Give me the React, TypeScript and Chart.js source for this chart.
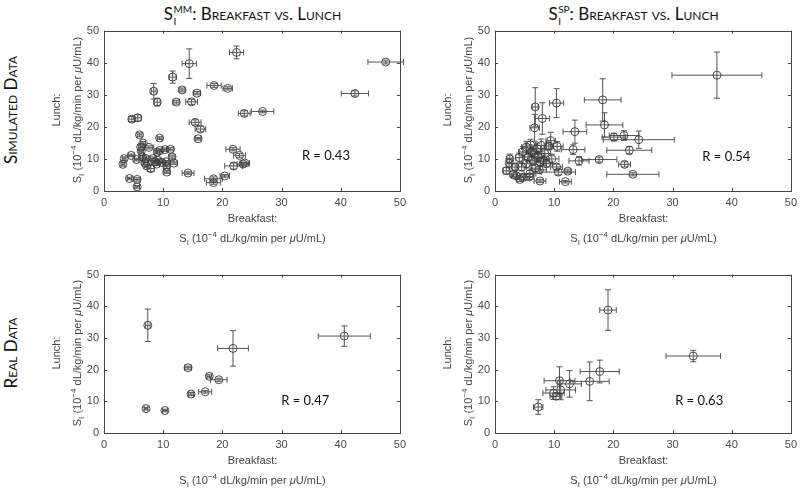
import React, { useEffect, useRef } from "react";
import { Chart, registerables } from "chart.js";

Chart.register(...registerables);

// ---- Simulated, S_I^MM ----
const SIM_MM_BREAKFAST = [47.6, 42.4, 22.4, 14.4, 11.6, 18.6, 20.9, 13.2, 15.7, 8.4, 9.0, 12.2, 14.8, 23.7, 26.8, 4.7, 5.7, 15.4, 16.3, 15.9, 6.0, 9.4, 21.8, 22.9, 21.9, 23.5, 23.8, 14.2, 20.4, 18.5, 18.5, 4.3, 5.6, 5.6, 3.4, 3.2, 4.6, 5.5, 6.2, 6.6, 7.6, 6.3, 6.5, 6.9, 7.2, 7.9, 8.3, 8.6, 8.9, 9.1, 9.0, 9.4, 10.3, 11.2, 11.5, 10.6, 10.6, 11.8, 9.8, 10.5, 7.1];
const SIM_MM_LUNCH = [40.2, 30.4, 43.2, 39.7, 35.5, 32.9, 32.0, 31.5, 30.5, 31.1, 27.7, 27.7, 27.8, 24.2, 24.8, 22.4, 22.8, 21.4, 19.3, 16.3, 17.5, 16.5, 13.0, 11.1, 7.8, 8.4, 8.7, 5.6, 4.7, 3.8, 2.6, 3.9, 3.6, 1.3, 10.1, 8.3, 11.1, 9.8, 13.7, 14.9, 13.6, 12.4, 10.6, 8.8, 7.8, 7.0, 10.1, 9.1, 8.4, 9.6, 12.1, 12.6, 12.9, 13.0, 10.6, 7.7, 5.9, 8.7, 8.9, 9.1, 10.1];
const SIM_MM_BREAKFAST_ERR = [3.0, 2.3, 1.2, 1.2, 0.6, 1.2, 0.8, 0.5, 0.6, 0.4, 0.5, 0.5, 1.0, 1.0, 1.9, 0.5, 0.6, 1.0, 0.9, 0.5, 0.4, 0.4, 1.2, 1.0, 1.5, 1.0, 0.8, 1.0, 0.8, 1.5, 1.2, 0.4, 0.5, 0.4, 0.3, 0.3, 0.5, 0.4, 0.4, 0.4, 0.8, 0.4, 0.4, 0.5, 0.4, 0.6, 0.5, 0.5, 0.5, 0.4, 0.4, 0.5, 0.5, 0.6, 0.5, 0.5, 0.5, 0.6, 0.4, 0.5, 0.4];
const SIM_MM_LUNCH_ERR = [0.6, 0.8, 2.0, 4.6, 1.9, 0.6, 0.5, 0.6, 0.5, 2.4, 1.2, 0.6, 0.8, 0.8, 0.4, 0.8, 1.0, 0.8, 0.9, 0.4, 0.6, 0.4, 0.5, 0.6, 1.0, 0.5, 0.3, 0.4, 0.4, 0.6, 0.5, 0.4, 0.5, 0.4, 0.5, 0.5, 0.4, 0.4, 0.6, 0.5, 0.5, 0.5, 0.5, 0.5, 0.4, 1.0, 0.5, 0.4, 0.5, 0.4, 0.5, 0.4, 0.5, 0.5, 0.6, 0.6, 0.4, 0.4, 0.4, 0.4, 0.5];

// ---- Simulated, S_I^SP ----
const SIM_SP_BREAKFAST = [37.5, 18.2, 10.4, 6.8, 8.0, 6.7, 18.5, 13.5, 20.1, 21.8, 24.3, 9.4, 10.5, 9.1, 13.2, 22.7, 17.6, 14.2, 21.9, 10.4, 10.7, 12.3, 23.3, 11.9, 7.6, 1.9, 2.4, 2.5, 3.1, 3.6, 4.1, 4.5, 4.8, 5.3, 5.6, 5.3, 5.9, 6.2, 6.4, 6.8, 7.1, 7.3, 7.6, 7.5, 8.2, 8.4, 5.8, 4.2, 3.4, 4.7, 6.6, 7.8, 8.7, 9.6, 6.0];
const SIM_SP_LUNCH = [36.1, 28.4, 27.4, 26.2, 22.6, 19.7, 20.6, 18.5, 16.8, 17.3, 16.0, 15.7, 13.9, 14.0, 12.9, 12.7, 9.8, 9.4, 8.3, 7.5, 5.9, 6.2, 5.2, 2.9, 3.1, 6.3, 8.7, 10.0, 5.2, 4.7, 10.4, 7.5, 4.3, 13.7, 10.6, 8.5, 5.4, 12.2, 9.6, 7.1, 13.2, 10.6, 9.1, 6.6, 9.6, 11.7, 4.4, 3.6, 7.5, 12.2, 11.7, 14.2, 8.6, 10.0, 14.3];
const SIM_SP_BREAKFAST_ERR = [7.6, 3.1, 1.2, 0.5, 1.2, 0.8, 3.1, 2.0, 2.0, 2.5, 6.0, 0.8, 1.0, 0.8, 2.0, 3.8, 3.0, 1.7, 1.0, 1.0, 2.9, 0.5, 4.4, 1.0, 1.0, 0.5, 0.4, 0.5, 0.6, 0.8, 0.6, 0.8, 1.0, 0.8, 0.7, 0.8, 1.0, 0.8, 0.9, 0.9, 0.8, 1.0, 0.9, 1.2, 1.0, 1.0, 0.8, 0.6, 0.5, 0.7, 0.8, 0.9, 1.0, 1.2, 0.9];
const SIM_SP_LUNCH_ERR = [7.2, 6.6, 4.5, 6.0, 4.9, 4.2, 3.8, 3.6, 1.2, 1.5, 2.7, 2.6, 1.5, 1.2, 1.5, 1.2, 0.8, 1.3, 0.8, 0.9, 0.9, 0.6, 0.5, 0.4, 0.5, 1.0, 1.5, 1.5, 0.8, 0.9, 1.4, 1.2, 0.8, 1.8, 1.5, 1.3, 1.0, 1.5, 1.6, 1.2, 1.7, 1.5, 1.4, 1.0, 1.6, 1.5, 0.8, 0.6, 1.0, 1.6, 1.5, 2.0, 1.2, 1.5, 1.8];

// ---- Real, S_I^MM ----
const REAL_MM_BREAKFAST = [7.4, 21.8, 40.6, 14.2, 17.8, 19.4, 17.1, 14.7, 7.1, 10.3];
const REAL_MM_LUNCH = [34.0, 26.7, 30.6, 20.6, 17.9, 16.8, 13.0, 12.3, 7.7, 7.1];
const REAL_MM_BREAKFAST_ERR = [0.4, 2.6, 4.4, 0.6, 0.4, 1.4, 1.1, 0.4, 0.3, 0.4];
const REAL_MM_LUNCH_ERR = [5.1, 5.6, 3.2, 0.5, 0.5, 0.5, 0.4, 0.5, 0.4, 0.4];

// ---- Real, S_I^SP ----
const REAL_SP_BREAKFAST = [19.1, 33.5, 17.7, 16.0, 10.9, 12.6, 11.1, 9.9, 10.3, 7.3];
const REAL_SP_LUNCH = [38.8, 24.3, 19.4, 16.3, 16.5, 15.5, 13.6, 12.6, 11.6, 8.2];
const REAL_SP_BREAKFAST_ERR = [1.4, 4.6, 3.3, 3.3, 2.6, 2.0, 2.5, 1.8, 1.0, 0.8];
const REAL_SP_LUNCH_ERR = [6.4, 1.8, 3.6, 6.1, 4.4, 4.2, 3.1, 2.0, 1.0, 2.3];

const AXIS_TICKS = [0, 10, 20, 30, 40, 50];
const R_LABELS = ["R = 0.43", "R = 0.54", "R = 0.47", "R = 0.63"];
const R_POS_X = [37.5, 39.1, 34.0, 34.5];
const R_POS_Y = [11.1, 10.8, 10.3, 10.1];

const TITLE_SUPS = ["MM", "SP"];
const ROW_LABELS = ["Simulated Data", "Real Data"];

const INK = "#3a3a3a";
const AXIS_FONT = "'Liberation Sans', Arial, sans-serif";

type PlotProps = {
  left: number;
  top: number;
  right: number;
  bottom: number;
  xs: number[];
  ys: number[];
  ex: number[];
  ey: number[];
  rText: string;
  rx: number;
  ry: number;
};

const PAD_L = 44;
const PAD_T = 10;
const PAD_R = 10;
const PAD_B = 24;

function Plot(p: PlotProps) {
  const ref = useRef<HTMLCanvasElement | null>(null);
  useEffect(() => {
    if (!ref.current) return;
    const errPlugin = {
      id: "errbars",
      beforeDatasetsDraw(chart: any) {
        const ctx = chart.ctx;
        const xs = chart.scales.x;
        const ys = chart.scales.y;
        const cap = 3;
        ctx.save();
        ctx.strokeStyle = "#555";
        ctx.lineWidth = 1;
        p.xs.forEach((xv, i) => {
          const cx = xs.getPixelForValue(xv);
          const cy = ys.getPixelForValue(p.ys[i]);
          const x1 = xs.getPixelForValue(xv - p.ex[i]);
          const x2 = xs.getPixelForValue(xv + p.ex[i]);
          const y1 = ys.getPixelForValue(p.ys[i] - p.ey[i]);
          const y2 = ys.getPixelForValue(p.ys[i] + p.ey[i]);
          ctx.beginPath();
          ctx.moveTo(x1, cy);
          ctx.lineTo(x2, cy);
          ctx.moveTo(x1, cy - cap);
          ctx.lineTo(x1, cy + cap);
          ctx.moveTo(x2, cy - cap);
          ctx.lineTo(x2, cy + cap);
          ctx.moveTo(cx, y1);
          ctx.lineTo(cx, y2);
          ctx.moveTo(cx - cap, y1);
          ctx.lineTo(cx + cap, y1);
          ctx.moveTo(cx - cap, y2);
          ctx.lineTo(cx + cap, y2);
          ctx.stroke();
        });
        ctx.restore();
      },
      afterDraw(chart: any) {
        const ctx = chart.ctx;
        const a = chart.chartArea;
        const xs = chart.scales.x;
        const ys = chart.scales.y;
        ctx.save();
        ctx.strokeStyle = "#444";
        ctx.lineWidth = 1;
        ctx.strokeRect(Math.round(a.left) + 0.5, Math.round(a.top) + 0.5, Math.round(a.right - a.left), Math.round(a.bottom - a.top));
        const t = 3;
        ctx.beginPath();
        AXIS_TICKS.forEach((v) => {
          const px = Math.round(xs.getPixelForValue(v)) + 0.5;
          ctx.moveTo(px, a.bottom);
          ctx.lineTo(px, a.bottom - t);
          ctx.moveTo(px, a.top);
          ctx.lineTo(px, a.top + t);
          const py = Math.round(ys.getPixelForValue(v)) + 0.5;
          ctx.moveTo(a.left, py);
          ctx.lineTo(a.left + t, py);
          ctx.moveTo(a.right, py);
          ctx.lineTo(a.right - t, py);
        });
        ctx.stroke();
        ctx.fillStyle = "#111";
        ctx.font = "13px Lato, 'Open Sans', sans-serif";
        ctx.textAlign = "center";
        ctx.textBaseline = "middle";
        ctx.fillText(p.rText, xs.getPixelForValue(p.rx), ys.getPixelForValue(p.ry));
        ctx.restore();
      },
    };
    const chart = new Chart(ref.current, {
      type: "scatter",
      data: {
        datasets: [
          {
            data: p.xs.map((x, i) => ({ x, y: p.ys[i] })),
            pointRadius: 4,
            pointHoverRadius: 4,
            pointBorderWidth: 0.9,
            pointBorderColor: INK,
            pointBackgroundColor: "rgba(0,0,0,0)",
          },
        ],
      },
      options: {
        responsive: false,
        animation: false,
        devicePixelRatio: 1,
        layout: { padding: { left: 0, top: PAD_T, right: PAD_R, bottom: 0 } },
        plugins: { legend: { display: false }, tooltip: { enabled: false } },
        scales: {
          x: {
            type: "linear",
            min: 0,
            max: 50,
            afterBuildTicks: (s: any) => {
              s.ticks = AXIS_TICKS.map((v) => ({ value: v }));
            },
            ticks: { color: "#4a4a4a", font: { family: AXIS_FONT, size: 11 }, padding: 5, maxRotation: 0 },
            grid: { display: false, drawTicks: false },
            border: { display: false },
            afterFit: (s: any) => {
              s.height = PAD_B;
            },
          },
          y: {
            type: "linear",
            min: 0,
            max: 50,
            afterBuildTicks: (s: any) => {
              s.ticks = AXIS_TICKS.map((v) => ({ value: v }));
            },
            ticks: { color: "#4a4a4a", font: { family: AXIS_FONT, size: 11 }, padding: 5 },
            grid: { display: false, drawTicks: false },
            border: { display: false },
            afterFit: (s: any) => {
              s.width = PAD_L;
            },
          },
        },
      } as any,
      plugins: [errPlugin],
    });
    return () => chart.destroy();
  }, []);
  const w = p.right - p.left + PAD_L + PAD_R;
  const h = p.bottom - p.top + PAD_T + PAD_B;
  return (
    <canvas
      ref={ref}
      width={w}
      height={h}
      style={{ position: "absolute", left: p.left - PAD_L, top: p.top - PAD_T, width: w, height: h }}
    />
  );
}

const axisTextStyle: React.CSSProperties = {
  position: "absolute",
  fontFamily: AXIS_FONT,
  fontSize: 11,
  color: "#444",
  whiteSpace: "nowrap",
  lineHeight: "13px",
};

function SIUnits() {
  return (
    <span>
      S<sub style={{ fontSize: 8, verticalAlign: -3 }}>I</sub> (10
      <sup style={{ fontSize: 8, verticalAlign: 5 }}>−4</sup> dL/kg/min per <i>μ</i>U/mL)
    </span>
  );
}

function XTitle({ cx, top }: { cx: number; top: number }) {
  return (
    <div style={{ ...axisTextStyle, left: cx - 150, width: 300, top, textAlign: "center" }}>
      <div>Breakfast:</div>
      <div style={{ marginTop: 3 }}>
        <SIUnits />
      </div>
    </div>
  );
}

function YTitle({ cx, cy }: { cx: number; cy: number }) {
  return (
    <div
      style={{
        ...axisTextStyle,
        left: cx - 150,
        top: cy - 15,
        width: 300,
        height: 30,
        textAlign: "center",
        transform: "rotate(-90deg)",
      }}
    >
      <div>Lunch:</div>
      <div style={{ marginTop: 4 }}>
        <SIUnits />
      </div>
    </div>
  );
}

function Title({ cx, sup }: { cx: number; sup: string }) {
  return (
    <div
      style={{
        position: "absolute",
        left: cx - 150,
        width: 300,
        top: 2,
        height: 24,
        lineHeight: "24px",
        textAlign: "center",
        fontFamily: "Lato, 'Open Sans', sans-serif",
        fontSize: 17,
        color: "#111",
        whiteSpace: "nowrap",
        fontVariant: "small-caps",
      }}
    >
      S
      <span
        style={{
          position: "relative",
          display: "inline-block",
          fontSize: 10,
          lineHeight: "11px",
          verticalAlign: 7,
          fontVariant: "normal",
          marginLeft: 0.5,
        }}
      >
        {sup}
        <span style={{ position: "absolute", left: 0, top: 12 }}>I</span>
      </span>
      : Breakfast vs. Lunch
    </div>
  );
}

function RowLabel({ cy, text }: { cy: number; text: string }) {
  return (
    <div
      style={{
        position: "absolute",
        left: 11 - 100,
        top: cy - 10,
        width: 200,
        height: 20,
        lineHeight: "20px",
        textAlign: "center",
        transform: "rotate(-90deg)",
        fontFamily: "Lato, 'Open Sans', sans-serif",
        fontSize: 17,
        color: "#111",
        fontVariant: "small-caps",
        whiteSpace: "nowrap",
      }}
    >
      {text}
    </div>
  );
}

export default function App() {
  const L1 = 104, R1 = 401, L2 = 495, R2 = 792;
  const T1 = 29, B1 = 191, T2 = 273, B2 = 433;
  return (
    <div style={{ position: "absolute", left: 0, top: 0, width: 800, height: 488, background: "#fff", overflow: "hidden" }}>
      <Title cx={(L1 + R1) / 2} sup={TITLE_SUPS[0]} />
      <Title cx={(L2 + R2) / 2 - 10} sup={TITLE_SUPS[1]} />
      <RowLabel cy={(T1 + B1) / 2} text={ROW_LABELS[0]} />
      <RowLabel cy={(T2 + B2) / 2} text={ROW_LABELS[1]} />

      <Plot left={L1} top={T1} right={R1} bottom={B1} xs={SIM_MM_BREAKFAST} ys={SIM_MM_LUNCH} ex={SIM_MM_BREAKFAST_ERR} ey={SIM_MM_LUNCH_ERR} rText={R_LABELS[0]} rx={R_POS_X[0]} ry={R_POS_Y[0]} />
      <Plot left={L2} top={T1} right={R2} bottom={B1} xs={SIM_SP_BREAKFAST} ys={SIM_SP_LUNCH} ex={SIM_SP_BREAKFAST_ERR} ey={SIM_SP_LUNCH_ERR} rText={R_LABELS[1]} rx={R_POS_X[1]} ry={R_POS_Y[1]} />
      <Plot left={L1} top={T2} right={R1} bottom={B2} xs={REAL_MM_BREAKFAST} ys={REAL_MM_LUNCH} ex={REAL_MM_BREAKFAST_ERR} ey={REAL_MM_LUNCH_ERR} rText={R_LABELS[2]} rx={R_POS_X[2]} ry={R_POS_Y[2]} />
      <Plot left={L2} top={T2} right={R2} bottom={B2} xs={REAL_SP_BREAKFAST} ys={REAL_SP_LUNCH} ex={REAL_SP_BREAKFAST_ERR} ey={REAL_SP_LUNCH_ERR} rText={R_LABELS[3]} rx={R_POS_X[3]} ry={R_POS_Y[3]} />

      <XTitle cx={(L1 + R1) / 2} top={B1 + 21} />
      <XTitle cx={(L2 + R2) / 2} top={B1 + 21} />
      <XTitle cx={(L1 + R1) / 2} top={B2 + 21} />
      <XTitle cx={(L2 + R2) / 2} top={B2 + 21} />

      <YTitle cx={65} cy={(T1 + B1) / 2} />
      <YTitle cx={65 + (L2 - L1)} cy={(T1 + B1) / 2} />
      <YTitle cx={65} cy={(T2 + B2) / 2} />
      <YTitle cx={65 + (L2 - L1)} cy={(T2 + B2) / 2} />
    </div>
  );
}
